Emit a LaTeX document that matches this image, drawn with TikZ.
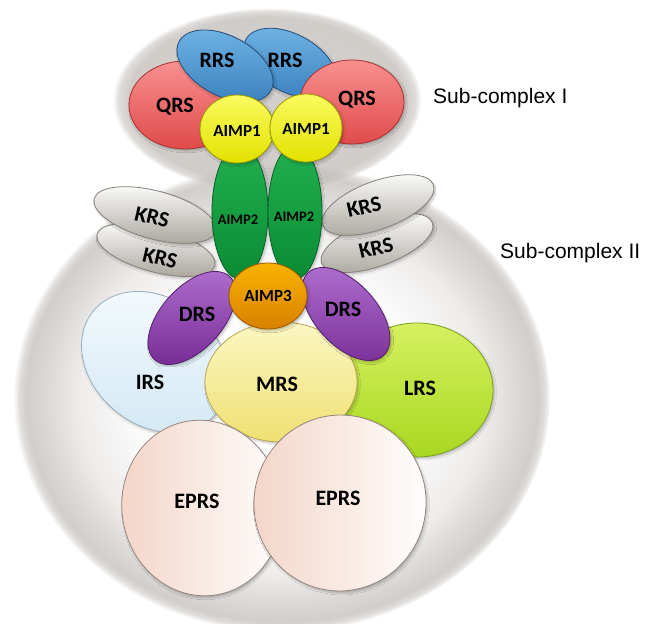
\documentclass[tikz,border=0pt]{standalone}
\usepackage{fontspec}
\newfontfamily\labfont{Carlito}
\newfontfamily\capfont{Liberation Sans}
\usetikzlibrary{shapes.geometric,fadings,shadows.blur}

% soft grey halos behind the two sub-complexes
\pgfdeclareradialshading{bighalosh}{\pgfpointorigin}{color(0bp)=(black); color(13bp)=(white!4!black); color(19bp)=(white!30!black); color(22bp)=(white!62!black); color(23.8bp)=(white!78!black); color(24.4bp)=(white!55!black); color(25bp)=(black); color(50bp)=(black)}
\pgfdeclarefading{bighalo}{\pgfuseshading{bighalosh}}
\pgfdeclareradialshading{tophalosh}{\pgfpointorigin}{color(0bp)=(white!78!black); color(22.5bp)=(white!80!black); color(24bp)=(white!55!black); color(25bp)=(black); color(50bp)=(black)}
\pgfdeclarefading{tophalo}{\pgfuseshading{tophalosh}}

\definecolor{haloG}{HTML}{C4C0BC}
\definecolor{qrsT}{HTML}{F89090}\definecolor{qrsB}{HTML}{E04A4A}\definecolor{qrsD}{HTML}{A83030}
\definecolor{rrsT}{HTML}{70B4E4}\definecolor{rrsB}{HTML}{3A80BE}\definecolor{rrsD}{HTML}{24507A}
\definecolor{ai1T}{HTML}{FAFA60}\definecolor{ai1B}{HTML}{E2E200}\definecolor{ai1D}{HTML}{9A9A00}
\definecolor{ai2T}{HTML}{22B050}\definecolor{ai2B}{HTML}{0A8C32}\definecolor{ai2D}{HTML}{06602A}
\definecolor{ai3T}{HTML}{F8B400}\definecolor{ai3B}{HTML}{D88000}\definecolor{ai3D}{HTML}{9A5A00}
\definecolor{krsT}{HTML}{FDFDFC}\definecolor{krsB}{HTML}{ABA79F}\definecolor{krsD}{HTML}{858078}
\definecolor{drsT}{HTML}{B070D0}\definecolor{drsB}{HTML}{7A2E98}\definecolor{drsD}{HTML}{522068}
\definecolor{irsT}{HTML}{F4FAFD}\definecolor{irsB}{HTML}{D2E8F4}\definecolor{irsD}{HTML}{98AEBC}
\definecolor{mrsT}{HTML}{FBF7C4}\definecolor{mrsB}{HTML}{F0E072}\definecolor{mrsD}{HTML}{B8A858}
\definecolor{lrsT}{HTML}{D6F060}\definecolor{lrsB}{HTML}{A8D820}\definecolor{lrsD}{HTML}{78A018}
\definecolor{epP}{HTML}{F3D4C6}\definecolor{epD}{HTML}{958580}

\tikzset{
  blob/.style={ellipse, inner sep=0pt, line width=0.8pt,
    blur shadow={shadow blur steps=6, shadow xshift=1.5pt, shadow yshift=-2pt, shadow opacity=22, shadow blur extra rounding=1.5pt}},
  lab/.style={font=\labfont\bfseries\fontsize{22}{22}\selectfont, inner sep=0pt},
  smalllab/.style={font=\labfont\bfseries\fontsize{17}{17}\selectfont, inner sep=0pt},
  tinylab/.style={font=\labfont\bfseries\fontsize{14.5}{14.5}\selectfont, inner sep=0pt},
  caption/.style={font=\capfont\fontsize{21}{21}\selectfont, inner sep=0pt}
}

\begin{document}
\begin{tikzpicture}[x=1pt,y=-1pt]
\useasboundingbox (0,0) rectangle (647,623);

% halos
\fill[haloG, path fading=bighalo] (282,398) ellipse [x radius=268, y radius=234];
\fill[haloG, path fading=tophalo] (267,100) ellipse [x radius=154, y radius=92];

% sub-complex II, lower layer
\node[blob, minimum width=160pt, minimum height=126pt, rotate=-40, top color=irsT, bottom color=irsB, draw=irsD] (irs) at (155,362) {};
\node[blob, minimum width=152pt, minimum height=134pt, top color=lrsT, bottom color=lrsB, draw=lrsD] (lrs) at (417,390) {};
\node[blob, minimum width=152pt, minimum height=120pt, top color=mrsT, bottom color=mrsB, draw=mrsD] (mrs) at (281,382) {};
\node[blob, minimum width=160pt, minimum height=176pt, rotate=10, left color=epP, right color=white, draw=epD] (eprsL) at (202,508) {};
\node[blob, minimum width=172pt, minimum height=176pt, rotate=-10, left color=epP, right color=white, draw=epD] (eprsR) at (340,503) {};

% KRS pairs
\node[blob, minimum width=122pt, minimum height=44pt, rotate=-15, top color=krsT, bottom color=krsB, draw=krsD] (krsLL) at (156,250) {};
\node[blob, minimum width=126pt, minimum height=48pt, rotate=-15, top color=krsT, bottom color=krsB, draw=krsD] (krsUL) at (155,215) {};
\node[blob, minimum width=118pt, minimum height=46pt, rotate=20, top color=krsT, bottom color=krsB, draw=krsD] (krsLR) at (377,243) {};
\node[blob, minimum width=118pt, minimum height=48pt, rotate=20, top color=krsT, bottom color=krsB, draw=krsD] (krsUR) at (378,205) {};

% AIMP2 stalks
\node[blob, minimum width=56pt, minimum height=134pt, top color=ai2T, bottom color=ai2B, draw=ai2D] (aimp2L) at (240,212) {};
\node[blob, minimum width=54pt, minimum height=134pt, top color=ai2T, bottom color=ai2B, draw=ai2D] (aimp2R) at (295,212) {};

% sub-complex I
\node[blob, minimum width=112pt, minimum height=88pt, top color=qrsT, bottom color=qrsB, draw=qrsD] (qrsL) at (185,105) {};
\node[blob, minimum width=100pt, minimum height=58pt, rotate=-28, top color=rrsT, bottom color=rrsB, draw=rrsD] (rrsR) at (290,63) {};
\node[blob, minimum width=104pt, minimum height=60pt, rotate=-28, top color=rrsT, bottom color=rrsB, draw=rrsD] (rrsL) at (225,66) {};
\node[blob, minimum width=104pt, minimum height=84pt, top color=qrsT, bottom color=qrsB, draw=qrsD] (qrsR) at (352,102) {};
\node[blob, minimum width=74pt, minimum height=68pt, top color=ai1T, bottom color=ai1B, draw=ai1D] (aimp1L) at (237,129) {};
\node[blob, minimum width=72pt, minimum height=68pt, top color=ai1T, bottom color=ai1B, draw=ai1D] (aimp1R) at (306,128) {};

% DRS and AIMP3
\node[blob, minimum width=112pt, minimum height=62pt, rotate=48, top color=drsT, bottom color=drsB, draw=drsD] (drsL) at (192,318) {};
\node[blob, minimum width=112pt, minimum height=62pt, rotate=-48, top color=drsT, bottom color=drsB, draw=drsD] (drsR) at (346,314) {};
\node[blob, minimum width=78pt, minimum height=66pt, top color=ai3T, bottom color=ai3B, draw=ai3D] (aimp3) at (268,296) {};

% labels
\node[lab] (tQrsL) at (175,107) {QRS};
\node[lab] (tQrsR) at (357,100) {QRS};
\node[lab] (tRrsL) at (217,60) {RRS};
\node[lab] (tRrsR) at (285,60) {RRS};
\node[smalllab] (tAimp1L) at (237,131) {AIMP1};
\node[smalllab] (tAimp1R) at (306,129) {AIMP1};
\node[tinylab] (tAimp2L) at (238,220) {AIMP2};
\node[tinylab] (tAimp2R) at (294,217) {AIMP2};
\node[lab, rotate=-13] (tKrsUL) at (152,217) {KRS};
\node[lab, rotate=-13] (tKrsLL) at (160,258) {KRS};
\node[lab, rotate=13] (tKrsUR) at (364,207) {KRS};
\node[lab, rotate=13] (tKrsLR) at (376,248) {KRS};
\node[smalllab] (tAimp3) at (268,296) {AIMP3};
\node[lab] (tDrsL) at (197,314) {DRS};
\node[lab] (tDrsR) at (343,309) {DRS};
\node[lab] (tIrs) at (150,382) {IRS};
\node[lab] (tMrs) at (277,384) {MRS};
\node[lab] (tLrs) at (420,388) {LRS};
\node[lab] (tEprsL) at (197,501) {EPRS};
\node[lab] (tEprsR) at (338,498) {EPRS};

\node[caption, anchor=west] (capI) at (433,98) {Sub-complex I};
\node[caption, anchor=west] (capII) at (500,253) {Sub-complex II};
\end{tikzpicture}
\end{document}
